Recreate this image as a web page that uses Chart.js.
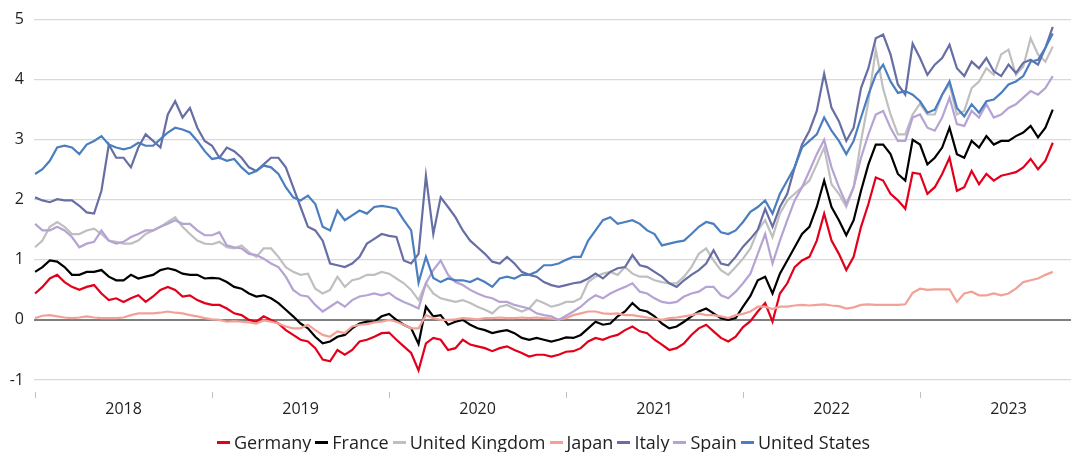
<!DOCTYPE html>
<html>
<head>
<meta charset="utf-8">
<script src="https://cdn.jsdelivr.net/npm/chart.js@4"></script>
<style>
    html, body { margin: 0; padding: 0; background: #fff; }
    #wrap { position: relative; width: 1071px; height: 452px; }
    #legend {
        position: absolute; left: 217px; top: 430px;
        display: flex; align-items: center; white-space: nowrap;
        font-family: 'Open Sans', sans-serif; font-size: 18px; color: #1f1f1f;
    }
    #legend .item { display: flex; align-items: center; margin-right: 4px; }
    #legend .mark { display: inline-block; width: 13px; height: 3px; margin-right: 4px; }
</style>
</head>
<body>
<div id="wrap">
    <canvas id="chart" width="1071" height="452"></canvas>
    <div id="legend"></div>
</div>
<script>
// ---- Data: 10-year government bond yields (%), semi-monthly, from Jan 2018 ----

const startYear = 2018;
const periodsPerYear = 24;
const yearTicks = [2018, 2019, 2020, 2021, 2022, 2023];
const yTicks = [-1, 0, 1, 2, 3, 4, 5];

const germany = [0.44, 0.55, 0.69, 0.75, 0.63, 0.55, 0.50, 0.55, 0.58, 0.44, 0.33, 0.36, 0.30, 0.36, 0.41, 0.30, 0.39, 0.50, 0.55, 0.50, 0.39, 0.41, 0.33, 0.28,
    0.25, 0.25, 0.19, 0.11, 0.08, 0.00, -0.03, 0.06, 0.00, -0.06, -0.17, -0.25, -0.33, -0.36, -0.47, -0.66, -0.69, -0.50, -0.58, -0.50, -0.36, -0.33, -0.28, -0.22,
    -0.21, -0.33, -0.44, -0.55, -0.84, -0.39, -0.30, -0.33, -0.50, -0.47, -0.33, -0.41, -0.44, -0.47, -0.52, -0.47, -0.44, -0.50, -0.55, -0.61, -0.58, -0.58, -0.61, -0.58,
    -0.53, -0.52, -0.47, -0.36, -0.30, -0.33, -0.28, -0.25, -0.17, -0.11, -0.19, -0.22, -0.33, -0.41, -0.50, -0.47, -0.39, -0.25, -0.14, -0.08, -0.19, -0.30, -0.36, -0.28,
    -0.12, -0.02, 0.14, 0.28, -0.03, 0.44, 0.61, 0.88, 0.99, 1.05, 1.32, 1.77, 1.32, 1.10, 0.83, 1.05, 1.55, 1.93, 2.37, 2.32, 2.10, 1.99, 1.85, 2.45,
    2.43, 2.10, 2.21, 2.43, 2.70, 2.15, 2.21, 2.48, 2.26, 2.43, 2.32, 2.40, 2.43, 2.46, 2.54, 2.68, 2.51, 2.65, 2.95];

const france = [0.80, 0.88, 0.99, 0.97, 0.88, 0.75, 0.75, 0.80, 0.80, 0.83, 0.72, 0.66, 0.66, 0.75, 0.69, 0.72, 0.75, 0.83, 0.86, 0.83, 0.77, 0.75, 0.75, 0.69,
    0.70, 0.69, 0.63, 0.55, 0.52, 0.44, 0.39, 0.41, 0.36, 0.28, 0.17, 0.06, -0.06, -0.14, -0.28, -0.39, -0.36, -0.28, -0.25, -0.14, -0.06, -0.03, -0.03, 0.06,
    0.10, 0.00, -0.08, -0.14, -0.40, 0.22, 0.06, 0.08, -0.08, -0.03, 0.00, -0.08, -0.14, -0.17, -0.22, -0.19, -0.17, -0.22, -0.30, -0.33, -0.30, -0.33, -0.36, -0.33,
    -0.29, -0.30, -0.25, -0.14, -0.03, -0.08, -0.06, 0.06, 0.14, 0.28, 0.17, 0.14, 0.06, -0.06, -0.14, -0.11, -0.03, 0.06, 0.14, 0.19, 0.11, 0.03, 0.00, 0.03,
    0.22, 0.40, 0.66, 0.72, 0.44, 0.77, 0.99, 1.21, 1.43, 1.55, 1.88, 2.32, 1.88, 1.66, 1.41, 1.66, 2.15, 2.59, 2.92, 2.92, 2.76, 2.43, 2.32, 3.00,
    2.92, 2.59, 2.70, 2.87, 3.20, 2.76, 2.70, 2.98, 2.87, 3.06, 2.92, 2.98, 2.98, 3.06, 3.12, 3.23, 3.04, 3.20, 3.50];

const unitedKingdom = [1.21, 1.32, 1.55, 1.63, 1.55, 1.43, 1.43, 1.49, 1.52, 1.43, 1.32, 1.30, 1.27, 1.27, 1.32, 1.43, 1.49, 1.55, 1.63, 1.71, 1.55, 1.43, 1.32, 1.27,
    1.26, 1.30, 1.21, 1.19, 1.24, 1.13, 1.05, 1.19, 1.19, 1.05, 0.88, 0.80, 0.75, 0.77, 0.52, 0.44, 0.50, 0.72, 0.55, 0.66, 0.69, 0.75, 0.75, 0.80,
    0.77, 0.69, 0.61, 0.50, 0.33, 0.61, 0.44, 0.36, 0.33, 0.30, 0.33, 0.28, 0.22, 0.17, 0.11, 0.22, 0.25, 0.19, 0.14, 0.19, 0.33, 0.28, 0.22, 0.25,
    0.30, 0.30, 0.36, 0.63, 0.72, 0.77, 0.80, 0.75, 0.88, 0.77, 0.72, 0.72, 0.66, 0.63, 0.61, 0.61, 0.72, 0.88, 1.10, 1.19, 0.99, 0.83, 0.75, 0.88,
    1.02, 1.19, 1.49, 1.66, 1.38, 1.77, 1.99, 2.10, 2.21, 2.32, 2.59, 2.87, 2.26, 2.10, 1.88, 2.21, 2.98, 3.64, 4.50, 3.85, 3.42, 3.09, 3.09, 3.42,
    3.60, 3.42, 3.42, 3.75, 3.92, 3.42, 3.48, 3.86, 3.97, 4.19, 4.08, 4.42, 4.50, 4.08, 4.22, 4.69, 4.42, 4.30, 4.55];

const japan = [0.03, 0.07, 0.08, 0.06, 0.04, 0.03, 0.04, 0.06, 0.04, 0.03, 0.03, 0.03, 0.04, 0.08, 0.11, 0.11, 0.11, 0.12, 0.14, 0.12, 0.11, 0.08, 0.06, 0.03,
    0.01, 0.00, -0.03, -0.02, -0.03, -0.04, -0.06, -0.01, -0.03, -0.06, -0.11, -0.14, -0.14, -0.08, -0.17, -0.25, -0.28, -0.19, -0.22, -0.11, -0.08, -0.07, -0.04, -0.03,
    0.00, -0.03, -0.08, -0.14, -0.14, 0.08, 0.03, 0.00, 0.00, 0.01, 0.03, 0.02, 0.01, 0.03, 0.03, 0.04, 0.03, 0.03, 0.04, 0.03, 0.04, 0.03, 0.02, 0.01,
    0.03, 0.08, 0.11, 0.14, 0.14, 0.11, 0.10, 0.11, 0.08, 0.08, 0.06, 0.04, 0.02, 0.00, 0.03, 0.04, 0.06, 0.08, 0.11, 0.08, 0.08, 0.06, 0.03, 0.08,
    0.10, 0.14, 0.22, 0.22, 0.18, 0.22, 0.22, 0.24, 0.25, 0.24, 0.25, 0.26, 0.24, 0.23, 0.19, 0.21, 0.25, 0.26, 0.25, 0.25, 0.25, 0.25, 0.26, 0.45,
    0.52, 0.50, 0.51, 0.51, 0.51, 0.30, 0.44, 0.47, 0.41, 0.41, 0.44, 0.41, 0.44, 0.52, 0.63, 0.66, 0.69, 0.75, 0.80];

const italy = [2.04, 1.99, 1.96, 2.01, 1.99, 1.99, 1.90, 1.79, 1.77, 2.15, 2.92, 2.70, 2.70, 2.54, 2.87, 3.09, 2.98, 2.87, 3.42, 3.64, 3.37, 3.53, 3.20, 2.98,
    2.90, 2.70, 2.87, 2.81, 2.70, 2.54, 2.48, 2.59, 2.70, 2.70, 2.54, 2.21, 1.88, 1.55, 1.49, 1.32, 0.94, 0.91, 0.88, 0.94, 1.05, 1.27, 1.35, 1.43,
    1.40, 1.38, 0.99, 0.94, 1.10, 2.40, 1.43, 2.04, 1.88, 1.71, 1.49, 1.32, 1.21, 1.10, 0.97, 0.94, 1.05, 0.94, 0.80, 0.75, 0.72, 0.63, 0.58, 0.55,
    0.58, 0.61, 0.63, 0.69, 0.77, 0.69, 0.80, 0.86, 0.88, 1.08, 0.91, 0.88, 0.80, 0.72, 0.61, 0.55, 0.66, 0.75, 0.83, 0.94, 1.16, 0.94, 0.91, 1.05,
    1.22, 1.35, 1.50, 1.85, 1.55, 1.88, 2.10, 2.54, 2.92, 3.15, 3.48, 4.10, 3.53, 3.31, 2.98, 3.20, 3.86, 4.19, 4.69, 4.75, 4.42, 3.92, 3.75, 4.60,
    4.36, 4.08, 4.25, 4.36, 4.58, 4.19, 4.06, 4.30, 4.19, 4.36, 4.14, 4.06, 4.25, 4.11, 4.28, 4.33, 4.25, 4.53, 4.88];

const spain = [1.60, 1.49, 1.49, 1.55, 1.49, 1.38, 1.21, 1.27, 1.30, 1.49, 1.32, 1.27, 1.30, 1.38, 1.43, 1.49, 1.49, 1.55, 1.60, 1.66, 1.60, 1.60, 1.49, 1.41,
    1.41, 1.46, 1.24, 1.21, 1.19, 1.10, 1.08, 1.02, 0.94, 0.88, 0.72, 0.50, 0.41, 0.39, 0.25, 0.14, 0.22, 0.30, 0.22, 0.33, 0.39, 0.41, 0.44, 0.41,
    0.45, 0.36, 0.30, 0.25, 0.19, 0.61, 0.83, 0.99, 0.75, 0.63, 0.58, 0.50, 0.44, 0.39, 0.36, 0.30, 0.30, 0.25, 0.22, 0.19, 0.11, 0.08, 0.06, 0.00,
    0.07, 0.14, 0.22, 0.33, 0.41, 0.36, 0.44, 0.50, 0.55, 0.61, 0.47, 0.44, 0.36, 0.30, 0.28, 0.30, 0.39, 0.44, 0.47, 0.55, 0.55, 0.41, 0.36, 0.47,
    0.61, 0.77, 1.10, 1.43, 0.94, 1.32, 1.66, 1.99, 2.21, 2.48, 2.76, 3.00, 2.54, 2.21, 1.93, 2.21, 2.70, 3.09, 3.42, 3.48, 3.20, 2.98, 2.98, 3.37,
    3.42, 3.20, 3.15, 3.37, 3.70, 3.26, 3.23, 3.48, 3.37, 3.59, 3.37, 3.42, 3.53, 3.59, 3.70, 3.81, 3.75, 3.86, 4.06];

const unitedStates = [2.43, 2.51, 2.65, 2.87, 2.90, 2.87, 2.76, 2.92, 2.98, 3.06, 2.92, 2.87, 2.84, 2.87, 2.95, 2.90, 2.90, 3.01, 3.12, 3.20, 3.17, 3.12, 2.98, 2.81,
    2.68, 2.70, 2.65, 2.68, 2.54, 2.43, 2.48, 2.57, 2.54, 2.43, 2.21, 2.04, 1.99, 2.07, 1.93, 1.55, 1.49, 1.82, 1.66, 1.74, 1.82, 1.77, 1.88, 1.90,
    1.88, 1.85, 1.66, 1.49, 0.62, 1.05, 0.70, 0.63, 0.69, 0.66, 0.66, 0.63, 0.69, 0.63, 0.55, 0.69, 0.72, 0.69, 0.75, 0.75, 0.80, 0.91, 0.91, 0.94,
    1.00, 1.05, 1.05, 1.32, 1.49, 1.66, 1.71, 1.60, 1.63, 1.66, 1.60, 1.49, 1.43, 1.24, 1.27, 1.30, 1.32, 1.43, 1.55, 1.63, 1.60, 1.46, 1.43, 1.49,
    1.63, 1.80, 1.88, 1.99, 1.77, 2.10, 2.32, 2.54, 2.87, 2.98, 3.09, 3.37, 3.15, 2.98, 2.76, 2.98, 3.37, 3.75, 4.08, 4.25, 3.97, 3.78, 3.81, 3.75,
    3.64, 3.45, 3.50, 3.75, 3.97, 3.53, 3.39, 3.59, 3.45, 3.64, 3.67, 3.78, 3.92, 3.97, 4.06, 4.30, 4.33, 4.53, 4.77];

const seriesNames = ['Germany', 'France', 'United Kingdom', 'Japan', 'Italy', 'Spain', 'United States'];
const seriesValues = [germany, france, unitedKingdom, japan, italy, spain, unitedStates];
const seriesColors = ['#e3001b', '#000000', '#bfbfbf', '#f2a197', '#676ea3', '#b5a3d3', '#4a7ebf'];

// ---- Build chart ----

const dates = germany.map((_, i) => startYear + i / periodsPerYear);
const FONT = "'Open Sans', sans-serif";

const datasets = seriesNames.map((name, s) => ({
    label: name,
    data: seriesValues[s].map((v, i) => ({ x: dates[i], y: v })),
    borderColor: seriesColors[s],
    borderWidth: 2.2,
    pointRadius: 0,
    tension: 0,
    fill: false,
    order: seriesNames.length - s   // later series drawn on top
}));

new Chart(document.getElementById('chart'), {
    type: 'line',
    data: { datasets },
    options: {
        responsive: false,
        animation: false,
        layout: { padding: { top: 18, right: 0, bottom: 30, left: 0 } },
        plugins: { legend: { display: false }, tooltip: { enabled: false } },
        scales: {
            x: {
                type: 'linear',
                min: 2017.994,
                max: 2023.853,
                afterBuildTicks: axis => {
                    const ticks = [];
                    yearTicks.forEach(y => { ticks.push({ value: y }); ticks.push({ value: y + 0.5 }); });
                    axis.ticks = ticks;
                },
                afterFit: axis => { axis.height = 30; },
                border: { display: false },
                grid: {
                    drawOnChartArea: false,
                    drawTicks: true,
                    tickLength: 6,
                    tickColor: ctx => (ctx.tick && ctx.tick.value % 1 === 0) ? '#bfbfbf' : 'rgba(0,0,0,0)'
                },
                ticks: {
                    autoSkip: false,
                    maxRotation: 0,
                    padding: 2,
                    color: '#1f1f1f',
                    font: { family: FONT, size: 16 },
                    callback: v => (v % 1 !== 0) ? String(Math.floor(v)) : ''
                }
            },
            y: {
                min: -1.2,
                max: 5,
                afterBuildTicks: axis => { axis.ticks = yTicks.map(v => ({ value: v })); },
                afterFit: axis => { axis.width = 34; },
                border: { display: false },
                grid: {
                    drawTicks: false,
                    color: ctx => ctx.tick && ctx.tick.value === 0 ? '#7f7f7f' : '#d9d9d9',
                    lineWidth: ctx => ctx.tick && ctx.tick.value === 0 ? 2 : 1.3
                },
                ticks: {
                    padding: 10,
                    color: '#1f1f1f',
                    font: { family: FONT, size: 16 },
                    callback: v => String(v)
                }
            }
        }
    }
});

// ---- HTML legend ----

const legendEl = document.getElementById('legend');
legendEl.innerHTML = seriesNames.map((name, s) => `
    <span class="item"><span class="mark" style="background:${seriesColors[s]}"></span>${name}</span>
`).join('');
</script>
</body>
</html>
